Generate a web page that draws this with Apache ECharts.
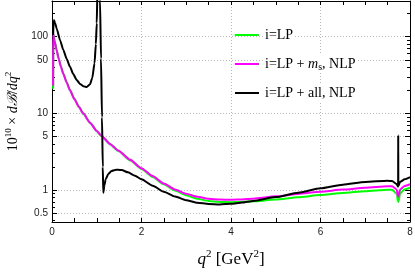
<!DOCTYPE html>
<html><head><meta charset="utf-8">
<script src="https://cdn.jsdelivr.net/npm/echarts@6/dist/echarts.min.js"></script>
<style>html,body{margin:0;padding:0;background:#fff}#c{width:415px;height:275px}</style>
</head><body><div id="c"></div>
<script>
// q^2 grid shared by the LP and LP+m_s curves
const qLP = [0.026, 0.029, 0.06, 0.104, 0.15, 0.2, 0.253, 0.33, 0.402, 0.5, 0.6, 0.7, 0.85, 1.0, 1.095, 1.3, 1.48, 1.75, 2.0, 2.25, 2.5, 2.75, 3.0, 3.25, 3.5, 3.75, 4.0, 4.25, 4.5, 5.0, 5.5, 6.0, 6.5, 7.0, 7.5, 7.6, 7.7, 7.74, 7.78, 7.88, 8.0];
const valLP = [21, 105, 86, 65.5, 51, 40, 32.3, 24.8, 19.8, 15.2, 12.0, 9.8, 7.45, 5.83, 5.1, 3.92, 3.22, 2.42, 1.88, 1.48, 1.19, 0.985, 0.855, 0.77, 0.72, 0.70, 0.695, 0.70, 0.713, 0.752, 0.805, 0.86, 0.915, 0.965, 1.01, 1.01, 0.9, 0.70, 0.9, 1.02, 1.07];
const valMs = [23, 108, 88, 67, 52, 41, 33, 25.3, 20.2, 15.5, 12.3, 10.0, 7.6, 5.95, 5.2, 4.0, 3.29, 2.48, 1.93, 1.52, 1.22, 1.02, 0.894, 0.816, 0.77, 0.75, 0.746, 0.754, 0.772, 0.827, 0.89, 0.95, 1.015, 1.07, 1.12, 1.12, 1.02, 0.82, 1.02, 1.13, 1.19];
// q^2 grid and values for LP + all, NLP
const qAll = [0.026, 0.035, 0.045, 0.07, 0.104, 0.18, 0.253, 0.33, 0.402, 0.475, 0.551, 0.625, 0.70, 0.775, 0.85, 0.90, 0.95, 0.98, 1.00, 1.015, 1.03, 1.04, 1.055, 1.065, 1.073, 1.095, 1.117, 1.135, 1.146, 1.17, 1.2, 1.258, 1.33, 1.408, 1.48, 1.558, 1.7, 1.855, 2.0, 2.25, 2.5, 2.75, 3.0, 3.25, 3.5, 3.75, 4.0, 4.25, 4.5, 5.0, 5.5, 6.0, 6.5, 7.0, 7.5, 7.6, 7.7, 7.735, 7.737, 7.739, 7.78, 7.88, 8.0];
const valAll = [105, 160, 164, 150, 128, 90, 67, 51, 40.5, 32.5, 27.3, 24.2, 22.6, 22.0, 24, 29, 45, 80, 150, 400, 2000, 3000, 2000, 600, 300, 52, 8.9, 2.0, 0.92, 1.15, 1.38, 1.62, 1.77, 1.83, 1.84, 1.82, 1.70, 1.54, 1.38, 1.14, 0.95, 0.823, 0.738, 0.684, 0.657, 0.65, 0.661, 0.686, 0.721, 0.809, 0.923, 1.054, 1.176, 1.275, 1.32, 1.31, 1.2, 1.1, 5.2, 1.12, 1.28, 1.38, 1.47];
const seriesNames = ['i=LP', 'i=LP + m_s, NLP', 'i=LP + all, NLP'];
const xTickLabels = [0, 2, 4, 6, 8];
const yMajorTicks = [0.5, 1, 5, 10, 50, 100];
const yMinorTicks = [0.4, 0.6, 0.7, 0.8, 0.9, 2, 3, 4, 6, 7, 8, 9, 20, 30, 40, 60, 70, 80, 90, 200];

const zip = (xs, ys) => xs.map((x, i) => [x, ys[i]]);
const serif = 'Liberation Serif, DejaVu Serif, serif';
const sans = 'Liberation Sans, Arial, sans-serif';
const YMIN = 0.383, YMAX = 292;
const blk = {color: '#000', width: 1};

function xAx(pos) {
  const top = pos === 'top';
  return {
    type: 'value', position: pos, min: xTickLabels[0], max: xTickLabels[xTickLabels.length - 1], interval: 2,
    axisLine: {show: true, onZero: false, lineStyle: blk},
    axisTick: {show: true, inside: true, length: 4, lineStyle: blk},
    minorTick: {show: true, splitNumber: 4, length: 4, lineStyle: blk},
    splitLine: {show: !top, lineStyle: {color: '#b8b8b8', type: [1, 2], width: 1}},
    axisLabel: {show: !top, fontFamily: sans, fontSize: 10, color: '#222', margin: 5},
    name: top ? '' : '{it|q}{sup|2}{n| [GeV}{sup|2}{n|]}',
    nameLocation: 'middle', nameGap: 27,
    nameTextStyle: {rich: {
      n: {fontFamily: serif, fontSize: 17, lineHeight: 22, color: '#000'},
      it: {fontFamily: serif, fontSize: 17, fontStyle: 'italic', lineHeight: 22, color: '#000'},
      sup: {fontFamily: serif, fontSize: 11, lineHeight: 12, verticalAlign: 'top', color: '#000'}
    }}
  };
}
function yAx(pos, major) {
  const left = pos === 'left';
  const vals = major ? yMajorTicks : yMinorTicks;
  return {
    type: 'log', logBase: 10, position: pos, min: YMIN, max: YMAX,
    axisLine: {show: major, onZero: false, lineStyle: blk},
    axisTick: {show: true, inside: true, length: major ? 5 : 3, customValues: vals, lineStyle: blk},
    axisLabel: {show: left && major, customValues: yMajorTicks, fontFamily: sans, fontSize: 10, color: '#222', margin: 4,
      formatter: v => String(Math.round(v * 1000) / 1000)},
    splitLine: {show: left && major, lineStyle: {color: '#b8b8b8', type: [1, 2], width: 1}},
    name: left && major ? '{n|10}{sup|10}{n| × }{it|d}{it|ℬ}{n|/}{it|dq}{sup|2}' : '',
    nameLocation: 'middle', nameGap: 30,
    nameTextStyle: {rich: {
      n: {fontFamily: serif, fontSize: 14, lineHeight: 18, color: '#000'},
      it: {fontFamily: serif, fontSize: 14, fontStyle: 'italic', lineHeight: 18, color: '#000'},
      sup: {fontFamily: serif, fontSize: 9, lineHeight: 10, verticalAlign: 'top', color: '#000'}
    }}
  };
}
const colors = ['#00ff00', '#ff00ff', '#000000'];
const datas = [zip(qLP, valLP), zip(qLP, valMs), zip(qAll, valAll)];
const chart = echarts.init(document.getElementById('c'), null, {renderer: 'canvas'});
chart.setOption({
  animation: false,
  grid: {left: 52, right: 5, top: 1, bottom: 53, containLabel: false, outerBoundsMode: 'none'},
  xAxis: [xAx('bottom'), xAx('top')],
  yAxis: [yAx('left', true), yAx('left', false), yAx('right', true), yAx('right', false)],
  legend: {
    orient: 'vertical', left: 235, top: 26, itemWidth: 24, itemHeight: 2, itemGap: 11, padding: 0,
    icon: 'rect',
    data: seriesNames,
    formatter: n => n === seriesNames[1] ? 'i=LP + {it|m}{sub|s}, NLP' : n,
    textStyle: {fontFamily: serif, fontSize: 14, color: '#000', lineHeight: 16, backgroundColor: '#fff', padding: [1, 2, 1, 1],
      rich: {
        it: {fontFamily: serif, fontSize: 14, fontStyle: 'italic', lineHeight: 16, color: '#000'},
        sub: {fontFamily: serif, fontSize: 10, lineHeight: 10, verticalAlign: 'bottom', color: '#000'}
      }}
  },
  series: seriesNames.map((n, i) => ({
    name: n, type: 'line', xAxisIndex: 0, yAxisIndex: 0, data: datas[i],
    showSymbol: false, symbol: 'none', smooth: 0.2, smoothMonotone: 'x',
    lineStyle: {color: colors[i], width: 2}, itemStyle: {color: colors[i]}, clip: true, z: 2 + i
  }))
});
</script></body></html>
